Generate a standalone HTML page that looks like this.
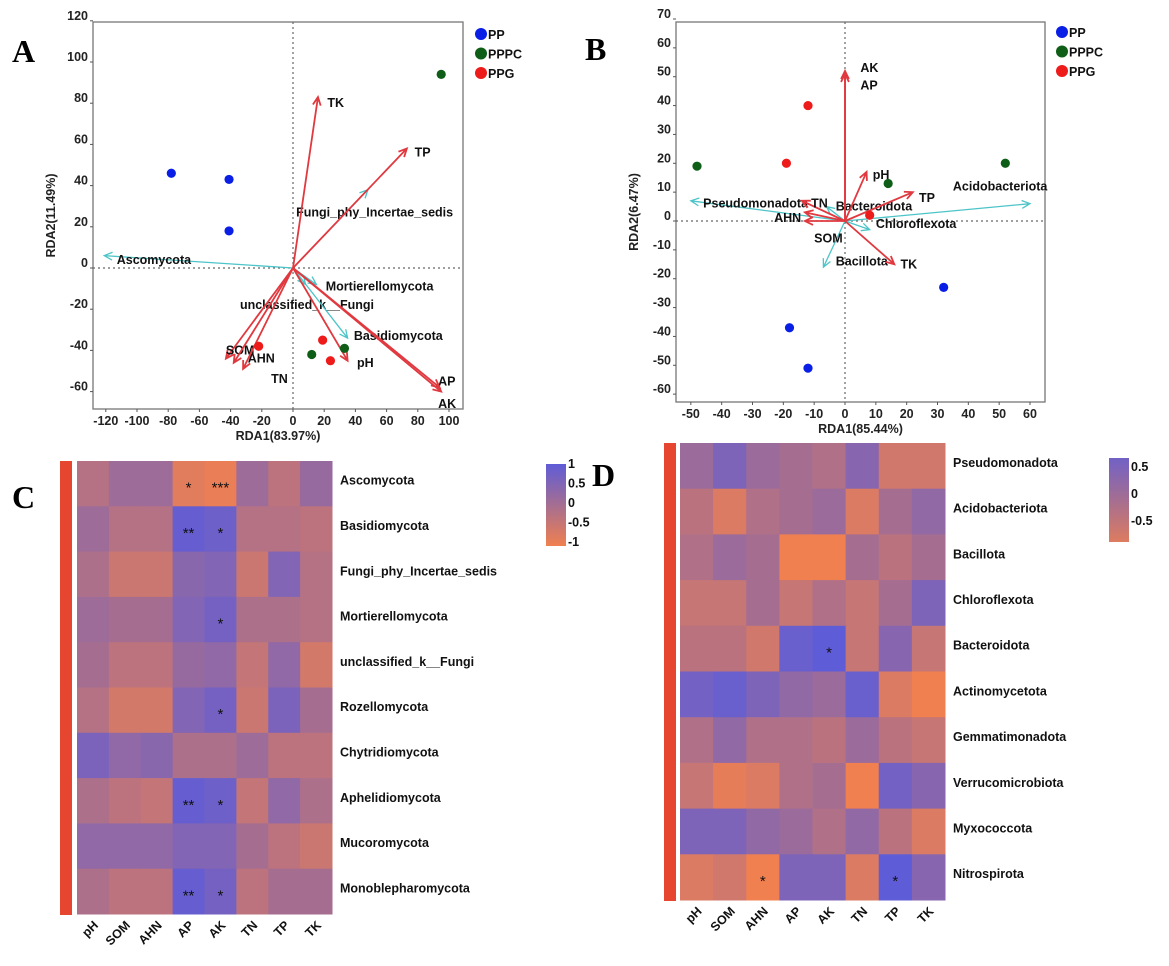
<!DOCTYPE html>
<html><head><meta charset="utf-8"><style>
body{margin:0;background:#fff;}
svg{display:block;font-family:"Liberation Sans",Arial,sans-serif;}
.t{font-size:12.5px;font-weight:bold;fill:#222;}
.lb{font-size:12.5px;font-weight:bold;fill:#111;}
.pl{font-family:"Liberation Serif",serif;font-weight:bold;font-size:32px;fill:#000;}
</style></head><body>
<svg id="s" width="1169" height="966" viewBox="0 0 1169 966">
<text class="pl" x="12" y="62">A</text>
<text class="pl" x="585" y="60">B</text>
<text class="pl" x="12" y="508">C</text>
<text class="pl" x="592" y="486">D</text>
</svg>
<script>
const NS="http://www.w3.org/2000/svg";
const S=document.getElementById('s');
function mk(tag,at,parent,txt){const e=document.createElementNS(NS,tag);for(const k in at)e.setAttribute(k,at[k]);if(txt!=null)e.textContent=txt;(parent||S).appendChild(e);return e;}

// ---------- Panel A data ----------
const aPPx=[-78,-41,-41], aPPy=[46,43,18];
const aPPPCx=[95,12,33], aPPPCy=[94,-42,-39];
const aPPGx=[19,24,-22], aPPGy=[-35,-45,-38];
const aEnvNames=["TK","TP","SOM","AHN","TN","pH","AP","AK"];
const aEnvX=[16,73,-43,-38,-32,35,94,95];
const aEnvY=[83,58,-44,-46,-49,-45,-58,-60];
const aEnvLabX=[22,78,-43,-29,-14,41,93,93];
const aEnvLabY=[80,56,-40,-44,-54,-46,-55,-66];
const aSpNames=["Ascomycota","Fungi_phy_Incertae_sedis","Mortierellomycota","unclassified_k__Fungi","Basidiomycota"];
const aSpX=[-121,48,15,8,35];
const aSpY=[6,38,-8,-8,-34];
const aSpLabX=[-113,2,21,-34,39];
const aSpLabY=[4,27,-9,-18,-33];
const aXTicks=[-120,-100,-80,-60,-40,-20,0,20,40,60,80,100];
const aYTicks=[-60,-40,-20,0,20,40,60,80,100,120];

// ---------- Panel B data ----------
const bPPx=[32,-18,-12], bPPy=[-23,-37,-51];
const bPPPCx=[-48,52,14], bPPPCy=[19,20,13];
const bPPGx=[-12,-19,8], bPPGy=[40,20,2];
const bEnvNames=["AK","AP","pH","TP","TK","TN","AHN","SOM"];
const bEnvX=[0,0,7,22,16,-14,-13,-13];
const bEnvY=[52,51,17,10,-15,7,3,0];
const bEnvLabX=[5,5,9,24,18,-11,-23,-10];
const bEnvLabY=[53,47,16,8,-15,6,1,-6];
const bSpNames=["Acidobacteriota","Pseudomonadota","Bacteroidota","Chloroflexota","Bacillota"];
const bSpX=[60,-50,-6,8,-7];
const bSpY=[6,7,5,-3,-16];
const bSpLabX=[35,-46,-3,10,-3];
const bSpLabY=[12,6,5,-1,-14];
const bXTicks=[-50,-40,-30,-20,-10,0,10,20,30,40,50,60];
const bYTicks=[-60,-50,-40,-30,-20,-10,0,10,20,30,40,50,60,70];

function rda(cfg){
  const {x0,x1,y0,y1,px0,px1,py0,py1}=cfg;
  const X=v=>px0+(v-x0)/(x1-x0)*(px1-px0);
  const Y=v=>py0+(v-y0)/(y1-y0)*(py1-py0);
  const g=mk('g',{});  
  const L=cfg.left,R=cfg.right,T=cfg.top,B=cfg.bottom;
  const fr=mk('rect',{x:L,y:T,width:R-L,height:B-T,fill:'none',stroke:'#777','stroke-width':1.3},g);
  
  mk('line',{x1:X(0),x2:X(0),y1:T,y2:B,stroke:'#666','stroke-dasharray':'2,3','stroke-width':1.2},g);
  mk('line',{x1:L,x2:R,y1:Y(0),y2:Y(0),stroke:'#666','stroke-dasharray':'2,3','stroke-width':1.2},g);
  cfg.xt.forEach(v=>{mk('line',{x1:X(v),x2:X(v),y1:B,y2:B+3,stroke:'#555'},g);
    const t=mk('text',{x:X(v),y:B+16,'text-anchor':'middle',class:'t'},g,v);
    });
  cfg.yt.forEach(v=>{mk('line',{x1:L-3,x2:L,y1:Y(v),y2:Y(v),stroke:'#555'},g);
    const t=mk('text',{x:L-5,y:Y(v)-1,'text-anchor':'end',class:'t'},g,v);
    });
  const xt=mk('text',{x:(L+R)/2,y:B+31,'text-anchor':'middle',class:'t'},g,cfg.xtitle);
  
  const yt=mk('text',{x:0,y:0,'text-anchor':'middle',class:'t',transform:`translate(${L-38},${(T+B)/2}) rotate(-90)`},g,cfg.ytitle);
  
  function arrow(x,y,col,w,nm){
    const ax=X(0),ay=Y(0),bx=X(x),by=Y(y);
    const a=Math.atan2(by-ay,bx-ax),h=9;
    const p=mk('path',{d:`M${ax},${ay}L${bx},${by}M${bx-h*Math.cos(a-0.45)},${by-h*Math.sin(a-0.45)}L${bx},${by}L${bx-h*Math.cos(a+0.45)},${by-h*Math.sin(a+0.45)}`,fill:'none',stroke:col,'stroke-width':w},g);
    
  }
  if(cfg.gray) mk('line',{x1:X(0),y1:Y(0),x2:X(cfg.gray[0]),y2:Y(cfg.gray[1]),stroke:'#666','stroke-width':1.2},g);
  cfg.spX.forEach((v,i)=>{arrow(v,cfg.spY[i],'#4cc4c8',1.3,'species-arrow');
    const t=mk('text',{x:X(cfg.spLX[i]),y:Y(cfg.spLY[i])+4,class:'lb'},g,cfg.spN[i]);
    });
  cfg.envX.forEach((v,i)=>{arrow(v,cfg.envY[i],'#e0393f',1.8,'env-arrow');
    const t=mk('text',{x:X(cfg.envLX[i]),y:Y(cfg.envLY[i])+4,class:'lb'},g,cfg.envN[i]);
    });
  const groups=[[cfg.pp,'#0a1fe6'],[cfg.pppc,'#0f5e17'],[cfg.ppg,'#ee1b1b']];
  groups.forEach(([d,c])=>d[0].forEach((v,i)=>{const e=mk('circle',{cx:X(v),cy:Y(d[1][i]),r:4.6,fill:c},g);
    }));
  ['PP','PPPC','PPG'].forEach((n,i)=>{
    const e=mk('circle',{cx:cfg.legX,cy:cfg.legY+i*19.5,r:6,fill:groups[i][1]},g);
    
    const t=mk('text',{x:cfg.legX+7,y:cfg.legY+i*19.5+5,class:'lb','font-size':'14px'},g,n);
    
  });
}
rda({name:'rda-fungi',x0:0,x1:100,px0:293,px1:449,y0:0,y1:100,py0:268,py1:62,left:93,right:463,top:22,bottom:409,
  xt:aXTicks,yt:aYTicks,xtitle:'RDA1(83.97%)',ytitle:'RDA2(11.49%)',gray:[48,38],
  spX:aSpX,spY:aSpY,spN:aSpNames,spLX:aSpLabX,spLY:aSpLabY,envX:aEnvX,envY:aEnvY,envN:aEnvNames,envLX:aEnvLabX,envLY:aEnvLabY,
  pp:[aPPx,aPPy],pppc:[aPPPCx,aPPPCy],ppg:[aPPGx,aPPGy],legX:481,legY:34});
rda({name:'rda-bacteria',x0:0,x1:60,px0:845,px1:1030,y0:0,y1:70,py0:221,py1:19,left:676,right:1045,top:22,bottom:402,
  xt:bXTicks,yt:bYTicks,xtitle:'RDA1(85.44%)',ytitle:'RDA2(6.47%)',
  spX:bSpX,spY:bSpY,spN:bSpNames,spLX:bSpLabX,spLY:bSpLabY,envX:bEnvX,envY:bEnvY,envN:bEnvNames,envLX:bEnvLabX,envLY:bEnvLabY,
  pp:[bPPx,bPPy],pppc:[bPPPCx,bPPPCy],ppg:[bPPGx,bPPGy],legX:1062,legY:32});

// ---------- Heatmaps ----------
const vars=["pH","SOM","AHN","AP","AK","TN","TP","TK"];
const cRows=["Ascomycota","Basidiomycota","Fungi_phy_Incertae_sedis","Mortierellomycota","unclassified_k__Fungi","Rozellomycota","Chytridiomycota","Aphelidiomycota","Mucoromycota","Monoblepharomycota"];
const cVals=[
[-0.2,0.1,0.1,-0.8,-0.9,0.1,-0.3,0.2],
[0.1,-0.2,-0.2,0.9,0.8,-0.2,-0.2,-0.3],
[-0.1,-0.5,-0.5,0.4,0.5,-0.5,0.5,-0.2],
[0.1,0.0,0.0,0.5,0.7,-0.1,-0.1,-0.2],
[0.0,-0.3,-0.3,0.2,0.3,-0.4,0.3,-0.6],
[-0.2,-0.6,-0.6,0.5,0.7,-0.5,0.6,0.0],
[0.6,0.3,0.4,-0.1,-0.1,0.1,-0.3,-0.3],
[-0.1,-0.3,-0.4,0.9,0.8,-0.4,0.3,-0.1],
[0.3,0.3,0.3,0.5,0.5,0.0,-0.3,-0.5],
[-0.1,-0.3,-0.3,0.9,0.7,-0.3,0.0,0.0]];
const cStars=[
["","","","*","***","","",""],["","","","**","*","","",""],["","","","","","","",""],["","","","","*","","",""],["","","","","","","",""],
["","","","","*","","",""],["","","","","","","",""],["","","","**","*","","",""],["","","","","","","",""],["","","","**","*","","",""]];
const cTicks=["1","0.5","0","-0.5","-1"];
const dRows=["Pseudomonadota","Acidobacteriota","Bacillota","Chloroflexota","Bacteroidota","Actinomycetota","Gemmatimonadota","Verrucomicrobiota","Myxococcota","Nitrospirota"];
const dVals=[
[0.1,0.4,0.1,0.0,-0.1,0.3,-0.4,-0.4],
[-0.2,-0.5,-0.1,0.0,0.1,-0.5,0.0,0.2],
[-0.1,0.1,0.0,-0.7,-0.7,0.0,-0.2,0.0],
[-0.3,-0.3,0.0,-0.3,-0.1,-0.3,0.0,0.4],
[-0.2,-0.2,-0.4,0.6,0.7,-0.3,0.3,-0.3],
[0.5,0.6,0.4,0.2,0.1,0.6,-0.5,-0.7],
[-0.1,0.2,-0.1,-0.1,-0.2,0.1,-0.2,-0.3],
[-0.3,-0.6,-0.5,-0.1,0.0,-0.7,0.5,0.3],
[0.4,0.4,0.2,0.1,-0.1,0.2,-0.2,-0.5],
[-0.5,-0.4,-0.7,0.4,0.4,-0.5,0.7,0.3]];
const dStars=[
["","","","","","","",""],["","","","","","","",""],["","","","","","","",""],["","","","","","","",""],["","","","","*","","",""],
["","","","","","","",""],["","","","","","","",""],["","","","","","","",""],["","","","","","","",""],["","","*","","","","*",""]];
const dTicks=["0.5","0","-0.5"];

function col(t){ // t in [-1,1]
  const neg=[240,128,80],mid=[165,110,145],pos=[95,92,215];
  const a=t<0?neg:pos,f=Math.min(1,Math.abs(t));
  return `rgb(${[0,1,2].map(i=>Math.round(mid[i]+(a[i]-mid[i])*f)).join(',')})`;
}
function heat(cfg){
  const g=mk('g',{});
  const cw=(cfg.R-cfg.L)/vars.length, rh=(cfg.B-cfg.T)/cfg.rows.length;
  const bar=mk('rect',{x:cfg.barX,y:cfg.T,width:12,height:cfg.B-cfg.T+1,fill:'#e6462f'},g);
  
  cfg.vals.forEach((row,r)=>{row.forEach((v,c)=>{
    const e=mk('rect',{x:cfg.L+c*cw,y:cfg.T+r*rh,width:cw+0.5,height:rh+0.5,fill:col(v/cfg.max)},g);
    
    if(cfg.stars[r][c]){const s=mk('text',{x:cfg.L+(c+0.5)*cw,y:cfg.T+(r+0.5)*rh+9,'text-anchor':'middle','font-size':'15px',fill:'#111'},g,cfg.stars[r][c]);
      }
  });
    const t=mk('text',{x:cfg.R+8,y:cfg.T+(r+0.5)*rh+1,class:'lb','font-size':'13.5px'},g,cfg.rows[r]);
    
  });
  vars.forEach((v,c)=>{const x=cfg.L+(c+0.5)*cw+6,y=cfg.B+12;
    const t=mk('text',{x:x,y:y,'text-anchor':'end',class:'lb','font-size':'14px',transform:`rotate(-45 ${x} ${y})`},g,v);
    });
  const id=cfg.name+'-grad';
  const lg=mk('linearGradient',{id:id,x1:0,y1:0,x2:0,y2:1},g);
  mk('stop',{offset:0,'stop-color':col(cfg.cbTop)},lg);mk('stop',{offset:0.5,'stop-color':col((cfg.cbTop+cfg.cbBot)/2)},lg);mk('stop',{offset:1,'stop-color':col(cfg.cbBot)},lg);
  const cb=mk('rect',{x:cfg.cbX,y:cfg.cbT,width:20,height:cfg.cbB-cfg.cbT,fill:`url(#${id})`},g);
  
  cfg.ticks.forEach((tk,i)=>{const y=cfg.tickY0+i*cfg.tickDY;
    const t=mk('text',{x:cfg.cbX+22,y:y+5,class:'lb','font-size':'13.5px'},g,tk);
    });
}
heat({name:'heatmap-fungi',L:77,R:332,T:461,B:914,barX:60,rows:cRows,vals:cVals,stars:cStars,max:1,
  cbX:546,cbT:464,cbB:546,cbTop:1,cbBot:-1,ticks:cTicks,tickY0:463,tickDY:19.5});
heat({name:'heatmap-bacteria',L:680,R:945,T:443,B:900,barX:664,rows:dRows,vals:dVals,stars:dStars,max:0.7,
  cbX:1109,cbT:458,cbB:542,cbTop:0.75,cbBot:-0.75,ticks:dTicks,tickY0:466,tickDY:27});
</script>
</body></html>
